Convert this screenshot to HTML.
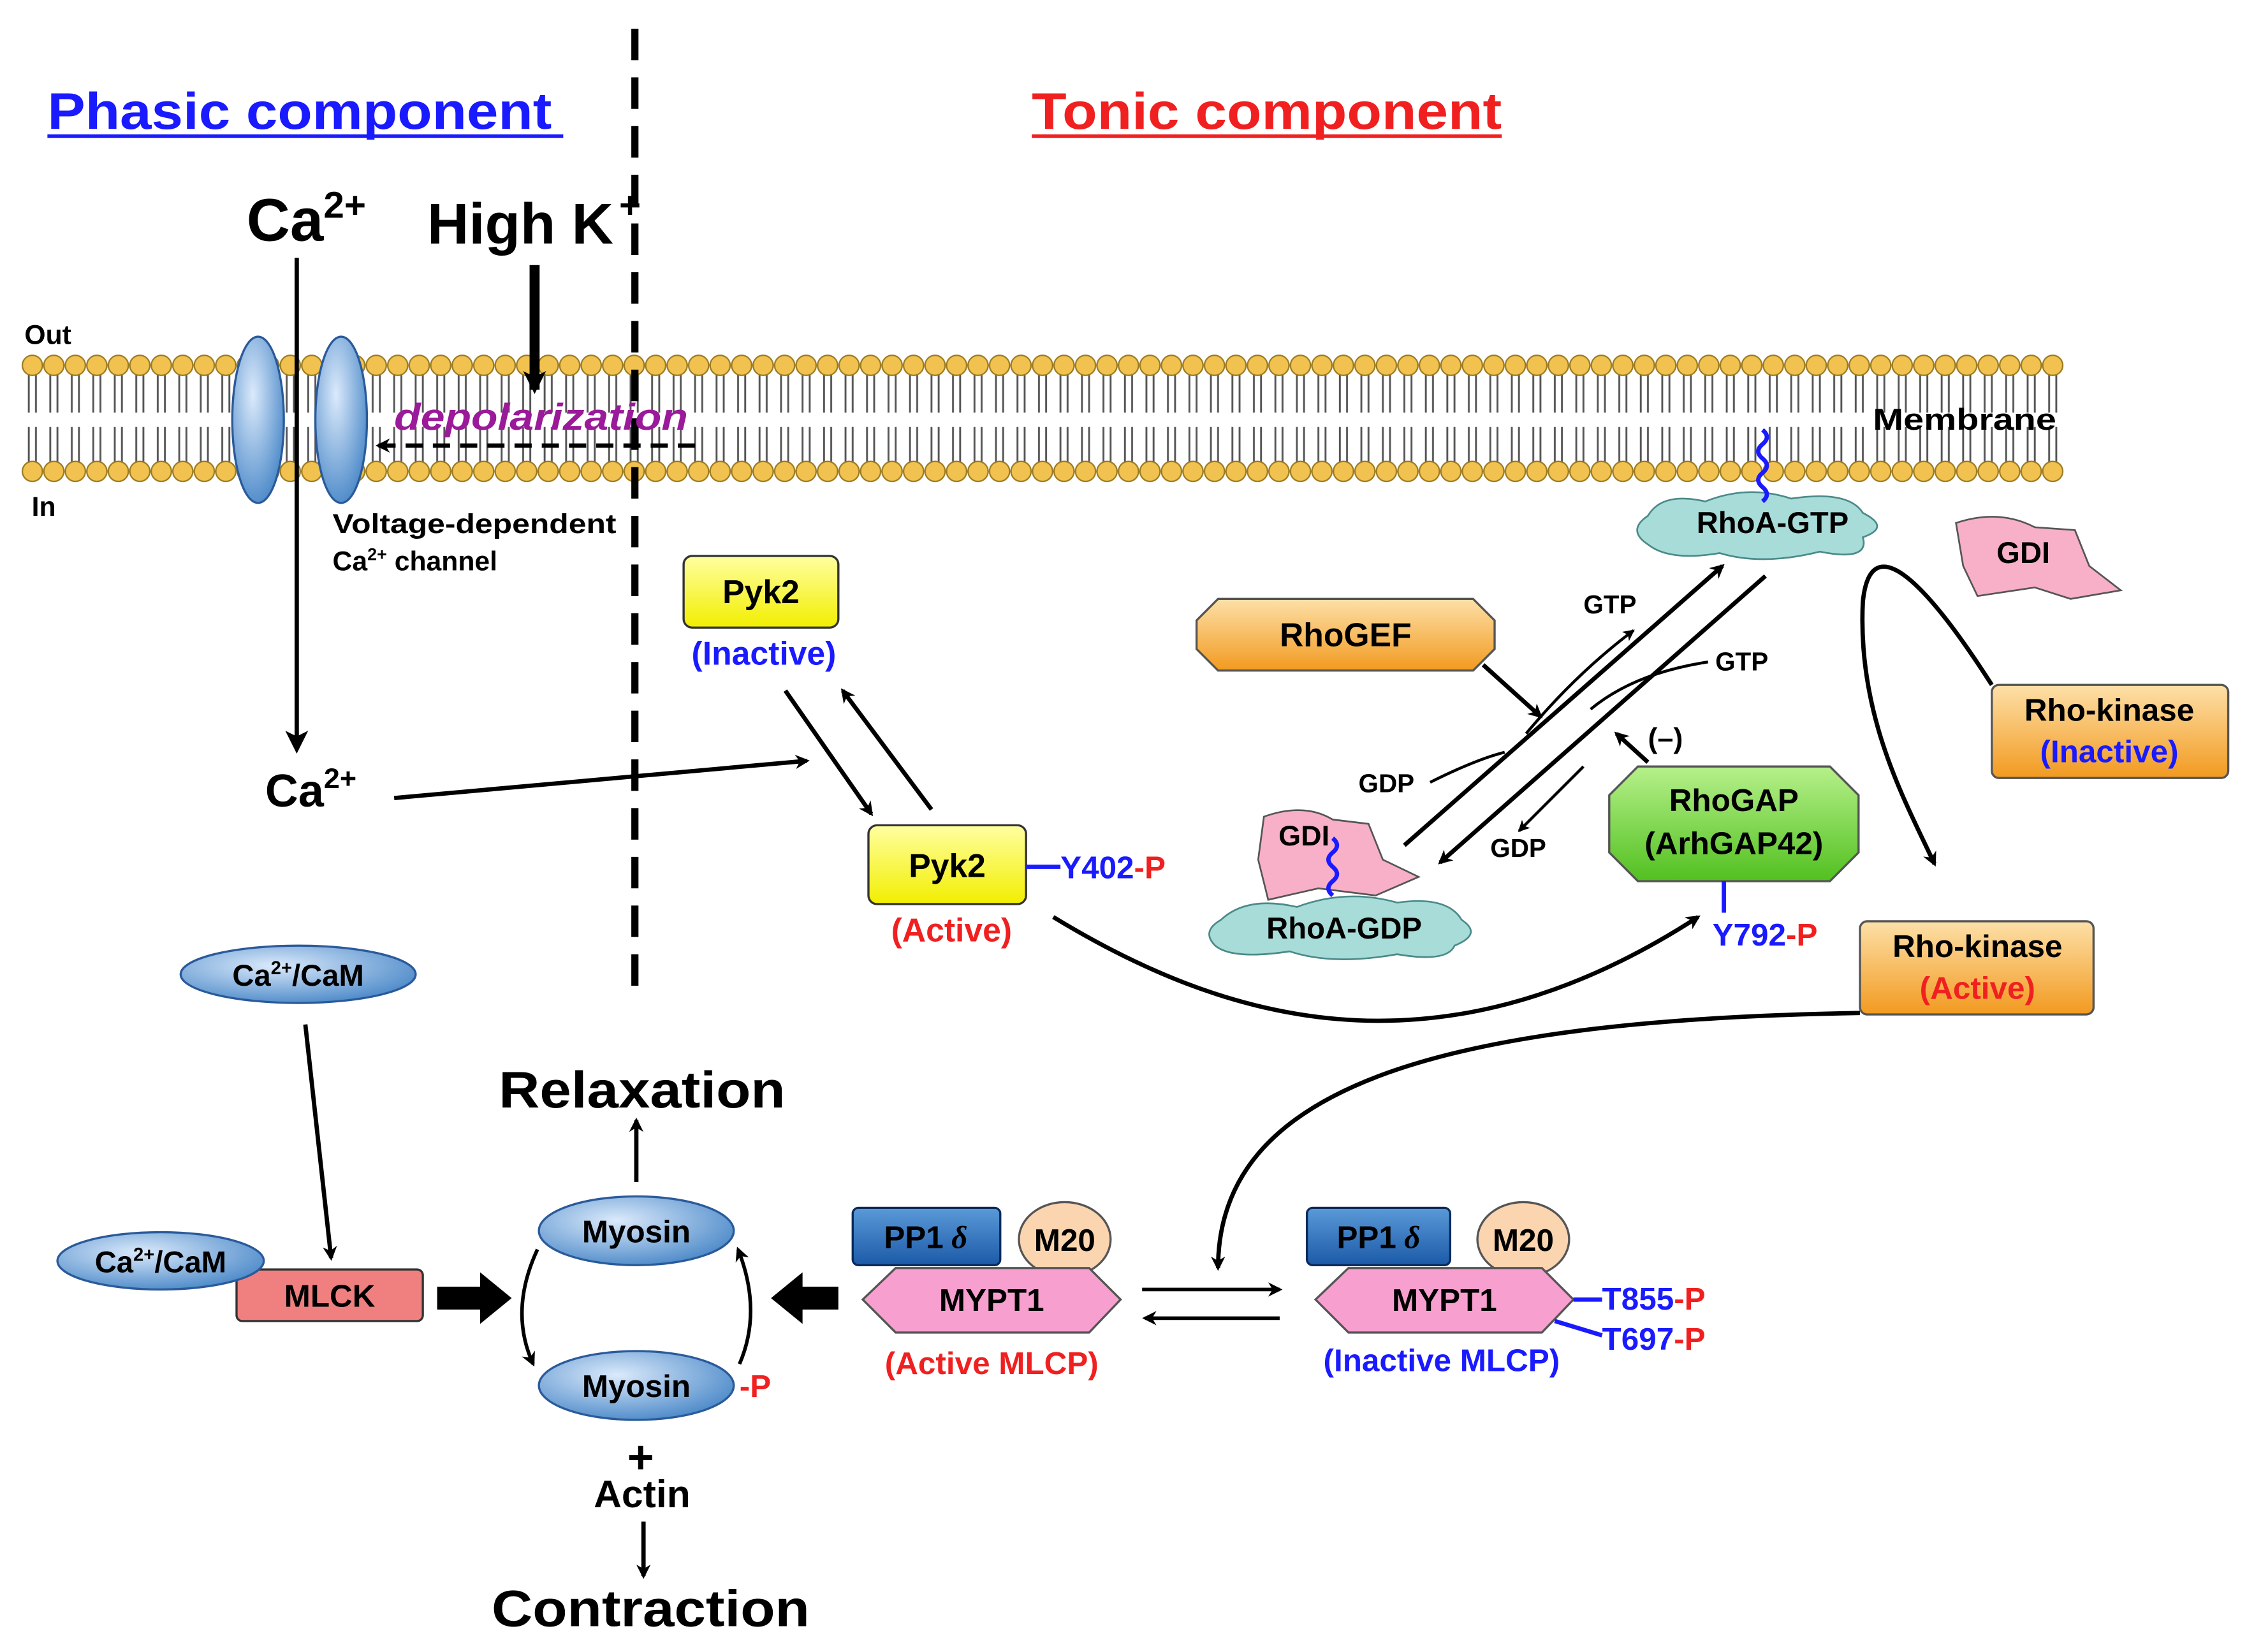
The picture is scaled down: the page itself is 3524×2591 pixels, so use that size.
<!DOCTYPE html>
<html><head><meta charset="utf-8"><style>
html,body{margin:0;padding:0;background:#fff}
svg{display:block}
text{font-family:"Liberation Sans",Arial,sans-serif;font-weight:bold}
</style></head><body>
<svg width="3524" height="2591" viewBox="0 0 1568 1153" xmlns="http://www.w3.org/2000/svg">
<defs>
<marker id="ah" markerWidth="10" markerHeight="10" refX="8" refY="5" orient="auto" markerUnits="userSpaceOnUse"><path d="M0,0 L10,5 L0,10 L3,5z" fill="#000"/></marker>
<marker id="ahb" markerWidth="16" markerHeight="16" refX="13" refY="8" orient="auto" markerUnits="userSpaceOnUse"><path d="M0,0 L16,8 L0,16 L4,8z" fill="#000"/></marker>
<marker id="ahs" markerWidth="8" markerHeight="8" refX="7" refY="4" orient="auto" markerUnits="userSpaceOnUse"><path d="M0,0 L8,4 L0,8 L2,4z" fill="#000"/></marker>
<pattern id="mem" x="15" y="0" width="15" height="400" patternUnits="userSpaceOnUse">
<line x1="5" y1="258" x2="5" y2="288" stroke="#555" stroke-width="1.3"/>
<line x1="10" y1="258" x2="10" y2="288" stroke="#555" stroke-width="1.3"/>
<line x1="5" y1="298" x2="5" y2="326" stroke="#555" stroke-width="1.3"/>
<line x1="10" y1="298" x2="10" y2="326" stroke="#555" stroke-width="1.3"/>
<circle cx="7.5" cy="255" r="7" fill="#f2c250" stroke="#9a7a20" stroke-width="1"/>
<circle cx="7.5" cy="329" r="7" fill="#f2c250" stroke="#9a7a20" stroke-width="1"/>
</pattern>
<radialGradient id="bl" cx="0.4" cy="0.35" r="0.7"><stop offset="0" stop-color="#dbeafb"/><stop offset="1" stop-color="#4a88c8"/></radialGradient>
<linearGradient id="yl" x1="0" y1="0" x2="0" y2="1"><stop offset="0" stop-color="#ffffa0"/><stop offset="1" stop-color="#f2ee00"/></linearGradient>
<linearGradient id="or" x1="0" y1="0" x2="0" y2="1"><stop offset="0" stop-color="#fde0a8"/><stop offset="1" stop-color="#f29a20"/></linearGradient>
<linearGradient id="gr" x1="0" y1="0" x2="0" y2="1"><stop offset="0" stop-color="#b6f08a"/><stop offset="1" stop-color="#52c020"/></linearGradient>
<linearGradient id="pb" x1="0" y1="0" x2="0" y2="1"><stop offset="0" stop-color="#5a9ad8"/><stop offset="1" stop-color="#1c5aa8"/></linearGradient>
</defs>

<rect x="15" y="240" width="1425" height="100" fill="url(#mem)"/>

<text x="33" y="90" font-size="36" fill="#1a1aff" textLength="352" lengthAdjust="spacingAndGlyphs">Phasic component</text>
<line x1="33" y1="95" x2="393" y2="95" stroke="#1a1aff" stroke-width="2.5"/>
<text x="720" y="90" font-size="36" fill="#f02020" textLength="328" lengthAdjust="spacingAndGlyphs">Tonic component</text>
<line x1="720" y1="95" x2="1048" y2="95" stroke="#f02020" stroke-width="2.5"/>

<line x1="443" y1="20" x2="443" y2="700" stroke="#000" stroke-width="5" stroke-dasharray="22,12"/>

<text x="172" y="168" font-size="42">Ca<tspan font-size="26" dy="-16">2+</tspan></text>
<text x="298" y="170" font-size="40" textLength="130" lengthAdjust="spacingAndGlyphs">High K</text><text x="432" y="152" font-size="26">+</text>
<line x1="207" y1="180" x2="207" y2="523" stroke="#000" stroke-width="3" marker-end="url(#ahb)"/>
<line x1="373" y1="185" x2="373" y2="272" stroke="#000" stroke-width="7" marker-end="url(#ahb)"/>

<ellipse cx="180" cy="293" rx="18" ry="58" fill="url(#bl)" stroke="#2a5a9a" stroke-width="1.5"/>
<ellipse cx="238" cy="293" rx="18" ry="58" fill="url(#bl)" stroke="#2a5a9a" stroke-width="1.5"/>

<text x="17" y="240" font-size="19">Out</text>
<text x="22" y="360" font-size="19">In</text>
<text x="1307" y="300" font-size="21" textLength="128" lengthAdjust="spacingAndGlyphs">Membrane</text>
<text x="275" y="300" font-size="26" fill="#9a1a9a" font-style="italic" textLength="205" lengthAdjust="spacingAndGlyphs">depolarization</text>
<line x1="485" y1="311" x2="264" y2="311" stroke="#000" stroke-width="3" stroke-dasharray="12,7" marker-end="url(#ah)"/>
<text x="232" y="372" font-size="19" textLength="198" lengthAdjust="spacingAndGlyphs">Voltage-dependent</text>
<text x="232" y="398" font-size="19">Ca<tspan font-size="12" dy="-7">2+</tspan><tspan dy="7"> channel</tspan></text>

<rect x="477" y="388" width="108" height="50" rx="6" fill="url(#yl)" stroke="#333" stroke-width="1.5"/>
<text x="531" y="421" font-size="23" text-anchor="middle">Pyk2</text>
<text x="533" y="464" font-size="23" text-anchor="middle" fill="#1a1aff">(Inactive)</text>
<line x1="548" y1="482" x2="608" y2="568" stroke="#000" stroke-width="3" marker-end="url(#ah)"/>
<line x1="650" y1="565" x2="588" y2="482" stroke="#000" stroke-width="3" marker-end="url(#ah)"/>
<text x="185" y="563" font-size="32">Ca<tspan font-size="20" dy="-13">2+</tspan></text>
<line x1="275" y1="557" x2="563" y2="531" stroke="#000" stroke-width="3" marker-end="url(#ah)"/>
<rect x="606" y="576" width="110" height="55" rx="6" fill="url(#yl)" stroke="#333" stroke-width="1.5"/>
<text x="661" y="612" font-size="23" text-anchor="middle">Pyk2</text>
<line x1="716" y1="605" x2="740" y2="605" stroke="#1a1aff" stroke-width="3"/>
<text x="740" y="613" font-size="22" fill="#1a1aff">Y402<tspan fill="#f02020">-P</tspan></text>
<text x="664" y="657" font-size="23" text-anchor="middle" fill="#f02020">(Active)</text>
<path d="M735,640 C850,710 1000,760 1185,640" fill="none" stroke="#000" stroke-width="3" marker-end="url(#ah)"/>

<ellipse cx="208" cy="680" rx="82" ry="20" fill="url(#bl)" stroke="#2a5a9a" stroke-width="1.5"/>
<text x="208" y="688" font-size="21" text-anchor="middle">Ca<tspan font-size="13" dy="-8">2+</tspan><tspan dy="8">/CaM</tspan></text>
<line x1="213" y1="715" x2="231" y2="878" stroke="#000" stroke-width="3" marker-end="url(#ah)"/>
<rect x="165" y="886" width="130" height="36" rx="4" fill="#f08080" stroke="#333" stroke-width="1.5"/>
<text x="230" y="912" font-size="22" text-anchor="middle">MLCK</text>
<ellipse cx="112" cy="880" rx="72" ry="20" fill="url(#bl)" stroke="#2a5a9a" stroke-width="1.5"/>
<text x="112" y="888" font-size="21" text-anchor="middle">Ca<tspan font-size="13" dy="-8">2+</tspan><tspan dy="8">/CaM</tspan></text>
<path d="M305,898 L335,898 L335,888 L357,906 L335,924 L335,914 L305,914z" fill="#000"/>

<ellipse cx="444" cy="859" rx="68" ry="24" fill="url(#bl)" stroke="#2a5a9a" stroke-width="1.5"/>
<text x="444" y="867" font-size="22" text-anchor="middle">Myosin</text>
<ellipse cx="444" cy="967" rx="68" ry="24" fill="url(#bl)" stroke="#2a5a9a" stroke-width="1.5"/>
<text x="444" y="975" font-size="22" text-anchor="middle">Myosin</text>
<text x="516" y="975" font-size="22" fill="#f02020">-P</text>
<path d="M375,872 Q355,915 372,952" fill="none" stroke="#000" stroke-width="2.5" marker-end="url(#ah)"/>
<path d="M516,952 Q532,915 515,872" fill="none" stroke="#000" stroke-width="2.5" marker-end="url(#ah)"/>
<text x="348" y="773" font-size="36" textLength="200" lengthAdjust="spacingAndGlyphs">Relaxation</text>
<line x1="444" y1="825" x2="444" y2="782" stroke="#000" stroke-width="3" marker-end="url(#ah)"/>
<text x="447" y="1028" font-size="32" text-anchor="middle">+</text>
<text x="448" y="1052" font-size="27" text-anchor="middle">Actin</text>
<line x1="449" y1="1062" x2="449" y2="1100" stroke="#000" stroke-width="3" marker-end="url(#ah)"/>
<text x="343" y="1135" font-size="36" textLength="222" lengthAdjust="spacingAndGlyphs">Contraction</text>
<path d="M585,898 L560,898 L560,888 L538,906 L560,924 L560,914 L585,914z" fill="#000"/>

<rect x="595" y="843" width="103" height="40" rx="4" fill="url(#pb)" stroke="#0a2a5a" stroke-width="1.5"/>
<text x="646" y="871" font-size="22" text-anchor="middle">PP1<tspan font-style="italic" font-family="Liberation Serif"> δ</tspan></text>
<ellipse cx="743" cy="865" rx="32" ry="26" fill="#fbd5b0" stroke="#555" stroke-width="1.5"/>
<text x="743" y="873" font-size="22" text-anchor="middle">M20</text>
<polygon points="602,907 625,885 760,885 782,907 760,930 625,930" fill="#f7a0d0" stroke="#555" stroke-width="1.5"/>
<text x="692" y="915" font-size="22" text-anchor="middle">MYPT1</text>
<text x="692" y="959" font-size="22" text-anchor="middle" fill="#f02020">(Active MLCP)</text>
<line x1="797" y1="900" x2="893" y2="900" stroke="#000" stroke-width="2.5" marker-end="url(#ah)"/>
<line x1="893" y1="920" x2="799" y2="920" stroke="#000" stroke-width="2.5" marker-end="url(#ah)"/>

<rect x="912" y="843" width="100" height="40" rx="4" fill="url(#pb)" stroke="#0a2a5a" stroke-width="1.5"/>
<text x="962" y="871" font-size="22" text-anchor="middle">PP1<tspan font-style="italic" font-family="Liberation Serif"> δ</tspan></text>
<ellipse cx="1063" cy="865" rx="32" ry="26" fill="#fbd5b0" stroke="#555" stroke-width="1.5"/>
<text x="1063" y="873" font-size="22" text-anchor="middle">M20</text>
<polygon points="918,907 941,885 1076,885 1098,907 1076,930 941,930" fill="#f7a0d0" stroke="#555" stroke-width="1.5"/>
<text x="1008" y="915" font-size="22" text-anchor="middle">MYPT1</text>
<line x1="1098" y1="907" x2="1118" y2="907" stroke="#1a1aff" stroke-width="3"/>
<line x1="1085" y1="922" x2="1118" y2="932" stroke="#1a1aff" stroke-width="3"/>
<text x="1118" y="914" font-size="22" fill="#1a1aff">T855<tspan fill="#f02020">-P</tspan></text>
<text x="1118" y="942" font-size="22" fill="#1a1aff">T697<tspan fill="#f02020">-P</tspan></text>
<text x="1006" y="957" font-size="22" text-anchor="middle" fill="#1a1aff">(Inactive MLCP)</text>
<path d="M1298,707 C1000,712 850,760 850,885" fill="none" stroke="#000" stroke-width="3" marker-end="url(#ah)"/>

<path d="M1150,360 Q1160,343 1190,350 Q1220,338 1250,348 Q1290,342 1300,358 Q1320,368 1300,375 Q1305,392 1270,385 Q1230,395 1200,386 Q1165,392 1150,380 Q1135,370 1150,360z" fill="#a8dcd8" stroke="#4a8a88" stroke-width="1.2"/>
<path d="M1230,300 q6,5 0,10 q-6,5 0,10 q6,5 0,10 q-6,5 0,10 q6,5 0,10" fill="none" stroke="#1a1aff" stroke-width="3"/>
<text x="1237" y="372" font-size="21" text-anchor="middle">RhoA-GTP</text>
<path d="M1365,365 Q1395,355 1420,368 L1448,370 L1458,395 L1480,412 L1445,418 L1420,410 L1380,416 L1370,395z" fill="#f7b0c8" stroke="#555" stroke-width="1.2"/>
<text x="1412" y="393" font-size="21" text-anchor="middle">GDI</text>
<path d="M1390,478 C1340,400 1305,370 1300,420 C1296,500 1330,560 1350,603" fill="none" stroke="#000" stroke-width="3" marker-end="url(#ah)"/>
<rect x="1390" y="478" width="165" height="65" rx="5" fill="url(#or)" stroke="#555" stroke-width="1.5"/>
<text x="1472" y="503" font-size="22" text-anchor="middle">Rho-kinase</text>
<text x="1472" y="532" font-size="22" text-anchor="middle" fill="#1a1aff">(Inactive)</text>
<rect x="1298" y="643" width="163" height="65" rx="5" fill="url(#or)" stroke="#555" stroke-width="1.5"/>
<text x="1380" y="668" font-size="22" text-anchor="middle">Rho-kinase</text>
<text x="1380" y="697" font-size="22" text-anchor="middle" fill="#f02020">(Active)</text>

<polygon points="835,433 850,418 1028,418 1043,433 1043,453 1028,468 850,468 835,453" fill="url(#or)" stroke="#555" stroke-width="1.5"/>
<text x="939" y="451" font-size="23" text-anchor="middle">RhoGEF</text>
<line x1="1035" y1="464" x2="1075" y2="500" stroke="#000" stroke-width="3" marker-end="url(#ah)"/>
<line x1="980" y1="590" x2="1202" y2="395" stroke="#000" stroke-width="3" marker-end="url(#ah)"/>
<line x1="1232" y1="402" x2="1005" y2="602" stroke="#000" stroke-width="3" marker-end="url(#ah)"/>
<text x="1105" y="428" font-size="18">GTP</text>
<path d="M1065,512 Q1100,470 1140,440" fill="none" stroke="#000" stroke-width="2" marker-end="url(#ahs)"/>
<text x="1197" y="468" font-size="18">GTP</text>
<path d="M1192,462 Q1140,470 1110,495" fill="none" stroke="#000" stroke-width="2"/>
<text x="948" y="553" font-size="18">GDP</text>
<path d="M998,546 Q1030,530 1050,525" fill="none" stroke="#000" stroke-width="2"/>
<text x="1040" y="598" font-size="18">GDP</text>
<path d="M1105,535 Q1080,560 1060,580" fill="none" stroke="#000" stroke-width="2" marker-end="url(#ahs)"/>
<text x="1150" y="522" font-size="20">(–)</text>
<line x1="1150" y1="532" x2="1128" y2="512" stroke="#000" stroke-width="3" marker-end="url(#ah)"/>

<polygon points="1123,555 1143,535 1277,535 1297,555 1297,595 1277,615 1143,615 1123,595" fill="url(#gr)" stroke="#555" stroke-width="1.5"/>
<text x="1210" y="566" font-size="22" text-anchor="middle">RhoGAP</text>
<text x="1210" y="596" font-size="22" text-anchor="middle">(ArhGAP42)</text>
<line x1="1203" y1="615" x2="1203" y2="637" stroke="#1a1aff" stroke-width="3"/>
<text x="1195" y="660" font-size="22" fill="#1a1aff">Y792<tspan fill="#f02020">-P</tspan></text>

<path d="M882,570 Q910,560 930,572 L955,575 L965,600 L990,612 L960,625 L920,620 L885,628 L878,600z" fill="#f7b0c8" stroke="#555" stroke-width="1.2"/>
<text x="910" y="590" font-size="20" text-anchor="middle">GDI</text>
<path d="M852,642 Q870,625 905,633 Q940,620 975,630 Q1010,625 1020,642 Q1035,652 1015,660 Q1010,672 975,666 Q930,674 900,664 Q860,670 848,660 Q838,650 852,642z" fill="#a8dcd8" stroke="#4a8a88" stroke-width="1.2"/>
<path d="M930,585 q6,5 0,10 q-6,5 0,10 q6,5 0,10 q-6,5 0,10" fill="none" stroke="#1a1aff" stroke-width="3"/>
<text x="938" y="655" font-size="21" text-anchor="middle">RhoA-GDP</text>
</svg>
</body></html>
